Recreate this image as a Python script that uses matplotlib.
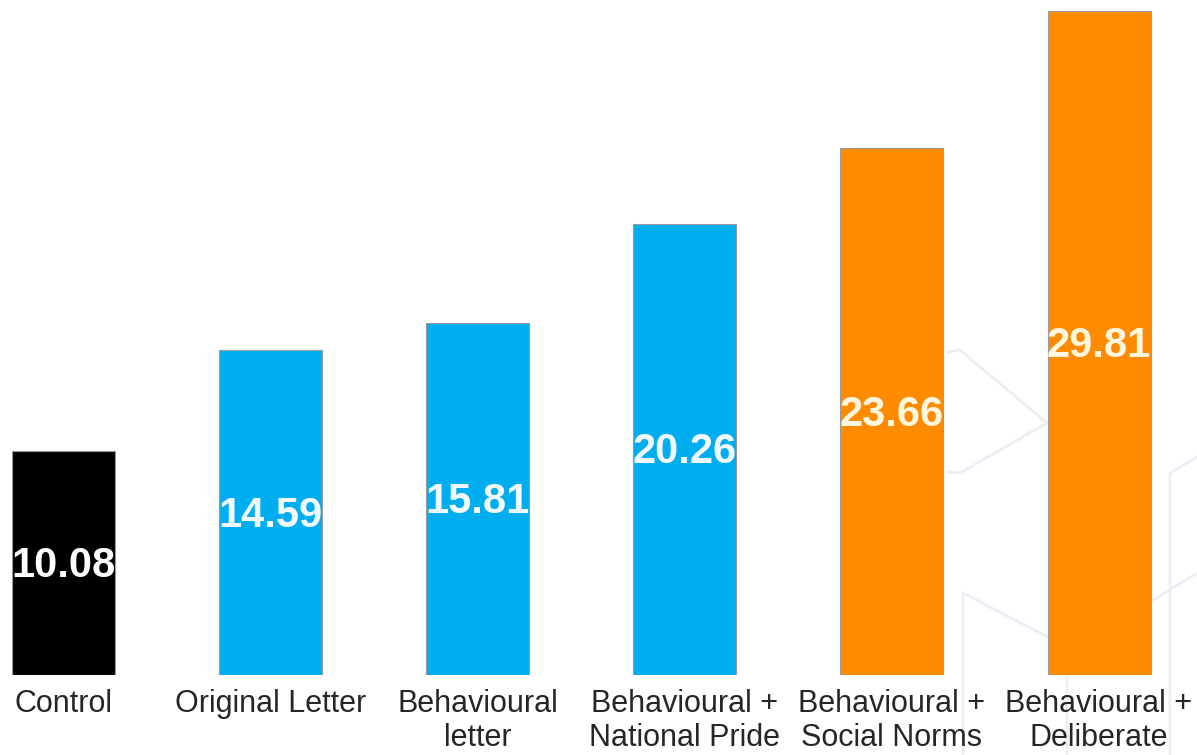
import matplotlib
matplotlib.use("Agg")
import matplotlib.pyplot as plt
from matplotlib.lines import Line2D

categories = ["Control", "Original Letter", "Behavioural\nletter",
              "Behavioural +\nNational Pride", "Behavioural +\nSocial Norms",
              "Behavioural +\nDeliberate"]
values = [10.08, 14.59, 15.81, 20.26, 23.66, 29.81]
bar_colors = ["#000000", "#00AEEF", "#00AEEF", "#00AEEF", "#FF8C00", "#FF8C00"]
label_colors = ["#FFFFFF", "#F2FAFF", "#F2FAFF", "#F2FAFF", "#FFF6E0", "#FFF6E0"]

plt.rcParams['font.family'] = ['Liberation Sans', 'DejaVu Sans']

W, H = 1197, 755
fig = plt.figure(figsize=(W / 100, H / 100), dpi=100)
fig.patch.set_facecolor("white")

# faint decorative watermark lines (background)
wm = "#EBEFF5"
segs = [
    [(948, 352), (960, 350), (1047, 423), (960, 473), (948, 472)],
    [(963, 755), (963, 593), (1067, 647), (1067, 755)],
    [(1153, 600), (1197, 573)],
    [(1170, 755), (1170, 473), (1197, 457)],
]
for s in segs:
    xs = [p[0] / W for p in s]
    ys = [1 - p[1] / H for p in s]
    fig.add_artist(Line2D(xs, ys, color=wm, lw=2, zorder=0))

ax = fig.add_axes([0, (H - 675) / H, 1, 675 / H])
ax.set_facecolor("none")
x = list(range(len(values)))
bars = ax.bar(x, values, width=0.497, color=bar_colors, edgecolor="#9a9a9a",
              linewidth=0.8, zorder=2)
for xi, v, lc in zip(x, values, label_colors):
    ax.annotate(f"{v:.2f}", xy=(xi, v / 2), xytext=(0, -2.2),
                textcoords="offset points", ha="center", va="center", color=lc,
                fontsize=30, fontweight="bold", zorder=3)

ax.set_xlim(-0.3066, 5.473)
ax.set_ylim(0, 30.31)
ax.set_xticks(x)
ax.set_xticklabels(categories, fontsize=22, color="#262626", linespacing=1.18)
ax.tick_params(axis="x", length=0, pad=10)
ax.set_yticks([])
for sp in ax.spines.values():
    sp.set_visible(False)

fig.savefig("out.png", dpi=100, facecolor="white")
